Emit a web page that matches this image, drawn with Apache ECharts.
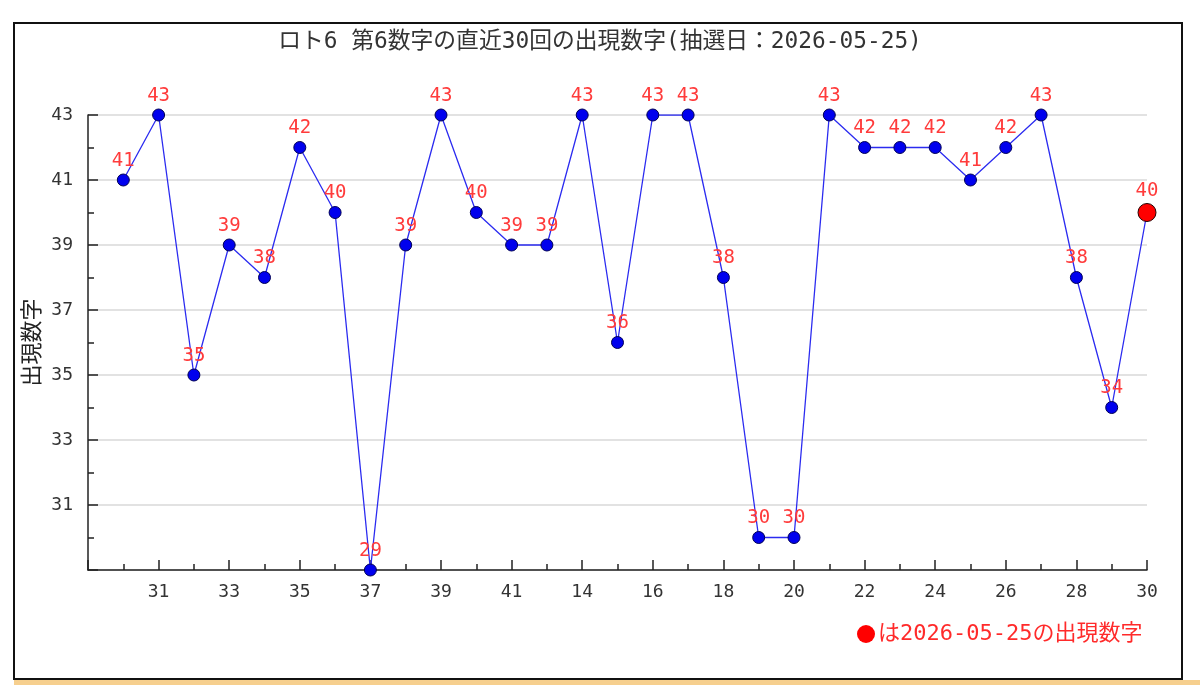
<!DOCTYPE html>
<html>
<head>
<meta charset="utf-8">
<script src="https://cdn.jsdelivr.net/npm/echarts@6/dist/echarts.min.js"></script>
<style>html,body{margin:0;padding:0;background:#fff;}#c{width:1200px;height:685px;}</style>
</head>
<body>
<div id="c"></div>
<script>
// draw labels (回号) for the last 30 draws
var drawLabels = ['30','31','32','33','34','35','36','37','38','39','40','41','13','14','15','16','17','18','19','20','21','22','23','24','25','26','27','28','29','30'];
// 第6数字 values
var values = [41,43,35,39,38,42,40,29,39,43,40,39,39,43,36,43,43,38,30,30,43,42,42,42,41,42,43,38,34,40];
var titleText = 'ロト6 第6数字の直近30回の出現数字(抽選日：2026-05-25)';
var yName = '出現数字';
var noteText = 'は2026-05-25の出現数字';

var FONT = "'DejaVu Sans Mono', 'Noto Sans CJK JP', monospace";
var lastIdx = values.length - 1;
var seriesData = values.map(function (v, i) {
  var item = { value: [i + 1, v] };
  if (i === lastIdx) {
    item.symbolSize = 18;
    item.itemStyle = { color: '#ff0000', borderColor: '#220000', borderWidth: 1 };
    item.label = { distance: 2 };
  }
  return item;
});

var chart = echarts.init(document.getElementById('c'));
chart.setOption({
  animation: false,
  backgroundColor: '#ffffff',
  title: {
    text: titleText,
    left: 'center',
    top: 31,
    padding: 0,
    textStyle: { fontFamily: FONT, fontSize: 22.8, fontWeight: 'normal', color: '#333333' }
  },
  grid: { left: 88, right: 53, top: 115, bottom: 115, containLabel: false },
  xAxis: {
    type: 'value',
    min: 0,
    max: drawLabels.length,
    interval: 2,
    axisLine: { show: true, lineStyle: { color: '#222222', width: 1.5 } },
    axisTick: { show: true, inside: true, length: 10, lineStyle: { color: '#222222', width: 1.5 } },
    minorTick: { show: true, splitNumber: 2, length: 6, lineStyle: { color: '#222222', width: 1.5 } },
    splitLine: { show: false },
    axisLabel: {
      margin: 13,
      fontFamily: FONT, fontSize: 18, color: '#333333',
      formatter: function (v) { return v >= 1 ? drawLabels[v - 1] : ''; }
    }
  },
  yAxis: {
    type: 'value',
    min: 29,
    max: 43,
    interval: 2,
    name: yName,
    nameLocation: 'middle',
    nameRotate: 90,
    nameGap: 44,
    nameMoveOverlap: false,
    nameTextStyle: { fontFamily: FONT, fontSize: 22, color: '#222222' },
    axisLine: { show: true, lineStyle: { color: '#222222', width: 1.5 } },
    axisTick: { show: true, inside: true, length: 10, lineStyle: { color: '#222222', width: 1.5 } },
    minorTick: { show: true, splitNumber: 2, length: 6, lineStyle: { color: '#222222', width: 1.5 } },
    splitLine: { show: true, lineStyle: { color: '#e2e2e2', width: 2 } },
    axisLabel: {
      margin: 15,
      fontFamily: FONT, fontSize: 18, color: '#333333',
      formatter: function (v) { return v === 29 ? '' : String(v); }
    }
  },
  series: [{
    type: 'line',
    data: seriesData,
    symbol: 'circle',
    symbolSize: 12,
    lineStyle: { color: '#2b2bf0', width: 1.3 },
    itemStyle: { color: '#0000ee', borderColor: '#000055', borderWidth: 1 },
    label: {
      show: true,
      position: 'top',
      distance: 3,
      fontFamily: FONT, fontSize: 19, color: '#ff3b3b',
      formatter: function (p) { return String(p.value[1]); }
    },
    z: 3
  }],
  graphic: [
    { type: 'rect', silent: true, z: 0, shape: { x: 14, y: 680, width: 1186, height: 5 }, style: { fill: '#f6cf8e' } },
    { type: 'rect', silent: true, z: 100, shape: { x: 14, y: 23, width: 1168, height: 656 }, style: { fill: 'none', stroke: '#111111', lineWidth: 2 } },
    { type: 'circle', silent: true, z: 100, shape: { cx: 866, cy: 634, r: 9 }, style: { fill: '#ff0000' } },
    { type: 'text', silent: true, z: 100, x: 878, y: 634, style: { text: noteText, fontFamily: FONT, fontSize: 22, fill: '#ff2a2a', textVerticalAlign: 'middle', verticalAlign: 'middle' } }
  ]
});
</script>
</body>
</html>
